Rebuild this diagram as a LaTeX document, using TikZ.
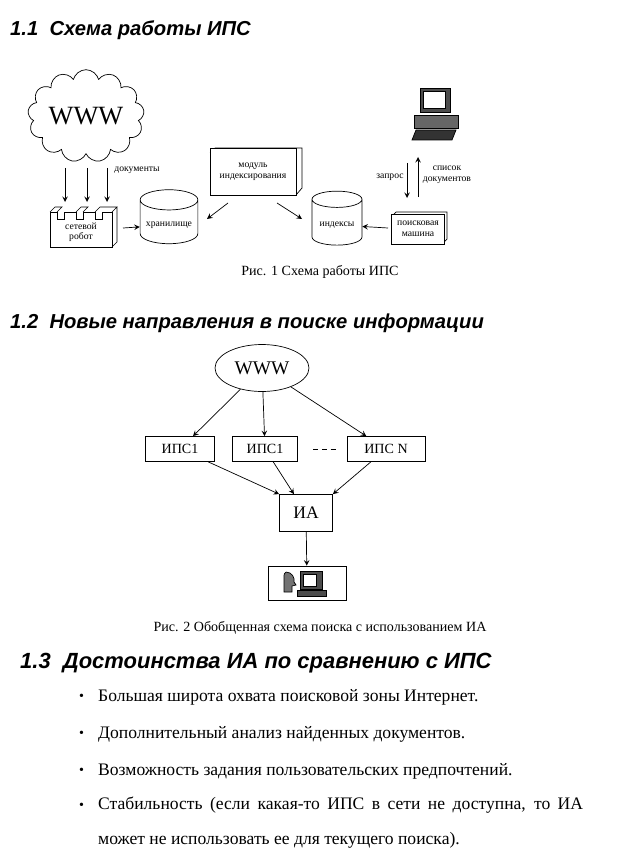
\documentclass[tikz,border=0pt]{standalone}
\usepackage{fontspec}
\setmainfont{Liberation Serif}
\newfontfamily\headfont{Liberation Sans}
\usetikzlibrary{shapes,shapes.geometric,shapes.symbols,positioning,arrows,calc}

\tikzset{
  head/.style={anchor=west,font=\headfont\bfseries\itshape\fontsize{11.5}{13}\selectfont},
  small/.style={font=\fontsize{5.5}{6}\selectfont,align=center},
  bx/.style={draw,font=\fontsize{8}{9}\selectfont,inner sep=2pt},
  drum/.style={cylinder,shape border rotate=90,draw,aspect=0.35,minimum width=0.86cm,minimum height=1.08cm,small},
  bul/.style={anchor=west,font=\fontsize{10}{12}\selectfont},
}

\begin{document}
\begin{tikzpicture}[x=0.02cm,y=-0.02cm,>=stealth]
\useasboundingbox (0,0) rectangle (641,851);

\node[head] (h1) at (4,30) {1.1\ \ Схема работы ИПС};

% figure 1
\node (www) at (86,116) [cloud,draw,cloud puffs=13,aspect=1.4,inner sep=0pt,minimum width=2.1cm,minimum height=1.75cm,
  font=\fontsize{15}{18}\selectfont]{WWW};
\draw[fill=white] (50,212) -- (57,212) -- (57,219) -- (64,219) -- (64,212) -- (76,212) -- (76,219) -- (83,219)
  -- (83,212) -- (95,212) -- (95,219) -- (102,219) -- (102,212) -- (112,212) -- (112,247) -- (50,247) -- cycle;
\draw (50,212) -- (55,207) -- (62,207) -- (57,212) (76,212) -- (81,207) -- (88,207) -- (83,212)
  (95,212) -- (100,207) -- (117,207) -- (112,212) (117,207) -- (117,242) -- (112,247);
\node (robot) at (81,232) [small]{сетевой\\робот};
\coordinate (r1) at (65,202); \coordinate (r2) at (87,202); \coordinate (r3) at (107,202);
\draw[->] (65,168) -- (r1);
\draw[->] (87,168) -- (r2);
\draw[->] (107,168) -- (r3);
\node (docs) at (137,170) [small]{документы};

\node (store) at (169,225) [drum]{хранилище};
\draw[->] (123,228) -- (store);

\draw[fill=white] (210,153) -- (215,148) -- (302,148) -- (302,188) -- (296,195);
\node (mod) at (253,172) [draw,fill=white,minimum width=1.72cm,minimum height=0.94cm,small]{модуль\\индексирования};
\node (idx) at (337,225) [drum,minimum width=1cm]{индексы};
\draw[->] (228,203) -- (207,219);
\draw[->] (277,203) -- (302,219);

\draw (392,216) -- (396,212) -- (447,212) -- (447,239) -- (443,243);
\node (eng) at (418,229) [draw,fill=white,minimum width=1.02cm,minimum height=0.6cm,small]{поисковая\\машина};
\draw[->] (388,228) -- (idx);

% computer icon
\node (pc) at (435,112) [minimum width=0.9cm,minimum height=1.1cm]{};
\draw[fill=black!70] (420,88) rectangle (450,112);
\draw[fill=white] (423,91) rectangle (445,108);
\draw[fill=black!60] (414,115) rectangle (458,128);
\draw[fill=black!80] (416,130) -- (456,130) -- (452,140) -- (412,140) -- cycle;
\coordinate (q1) at (407,163); \coordinate (q2) at (407,198);
\draw[->] (q1) -- (q2);
\coordinate (a1) at (418,197); \coordinate (a2) at (418,157);
\draw[->] (a1) -- (a2);
\node (req) at (390,177) [small]{запрос};
\node (lst) at (447,175) [small]{список\\документов};

\node (cap1) at (320,272) [font=\fontsize{8}{9}\selectfont]{Рис. 1 Схема работы ИПС};

% figure 2
\node[head] (h2) at (4,323) {1.2\ \ Новые направления в поиске информации};
\node (w2) at (262,368) [ellipse,draw,minimum width=1.6cm,minimum height=0.94cm,font=\fontsize{11}{12}\selectfont]{WWW};
\node (s1) at (180,449) [bx,minimum width=1.38cm,minimum height=0.5cm]{ИПС1};
\node (s2) at (265,449) [bx,minimum width=1.3cm,minimum height=0.5cm]{ИПС1};
\coordinate (d1) at (313,449); \coordinate (d2) at (336,449);
\draw[dashed,dash pattern=on 3pt off 2pt] (d1) -- (d2);
\node (sn) at (386,449) [bx,minimum width=1.56cm,minimum height=0.5cm]{ИПС N};
\node (ia) at (306,513) [bx,minimum width=1.06cm,minimum height=0.74cm,font=\fontsize{10}{11}\selectfont]{ИА};
\node (user) at (307,583) [draw,minimum width=1.56cm,minimum height=0.68cm]{};
\draw[fill=black!55] (286,572) .. controls (292,572) and (295,578) .. (294,582) -- (296,585) -- (292,586)
  -- (292,592) -- (284,592) -- (284,576) .. controls (284,574) .. (286,572);
\draw[fill=black!70] (300,571) rectangle (322,589);
\draw[fill=white] (303,574) rectangle (316,586);
\draw[fill=black!70] (297,590) rectangle (326,596);
\draw[->] (w2) -- (s1);
\draw[->] (w2) -- (s2);
\draw[->] (w2) -- (sn);
\draw[->] (s1) -- (ia.north west);
\draw[->] (s2) -- (ia);
\draw[->] (sn) -- (ia.north east);
\draw[->] (ia) -- (user);
\node (cap2) at (320,628) [font=\fontsize{8}{9}\selectfont]{Рис. 2 Обобщенная схема поиска с использованием ИА};

% list
\node[head,font=\headfont\bfseries\itshape\fontsize{12.5}{14}\selectfont] (h3) at (14,663) {1.3\ \ Достоинства ИА по сравнению с ИПС};
\foreach \y/\t [count=\i] in {697/Большая широта охвата поисковой зоны Интернет.,
  734/Дополнительный анализ найденных документов.,
  771/Возможность задания пользовательских предпочтений.}{
  \node (b\i) at (73,\y) [bul]{\footnotesize\textbullet};
  \node (t\i) at (92,\y) [bul]{\t};
}
\node (b4) at (73,806) [bul]{\footnotesize\textbullet};
\node (t4) at (92,823) [bul,text width=9.7cm,align=justify,font=\fontsize{10}{20}\selectfont]
  {Стабильность (если какая-то ИПС в сети не доступна, то ИА может не использовать ее для текущего поиска).};
\end{tikzpicture}
\end{document}
